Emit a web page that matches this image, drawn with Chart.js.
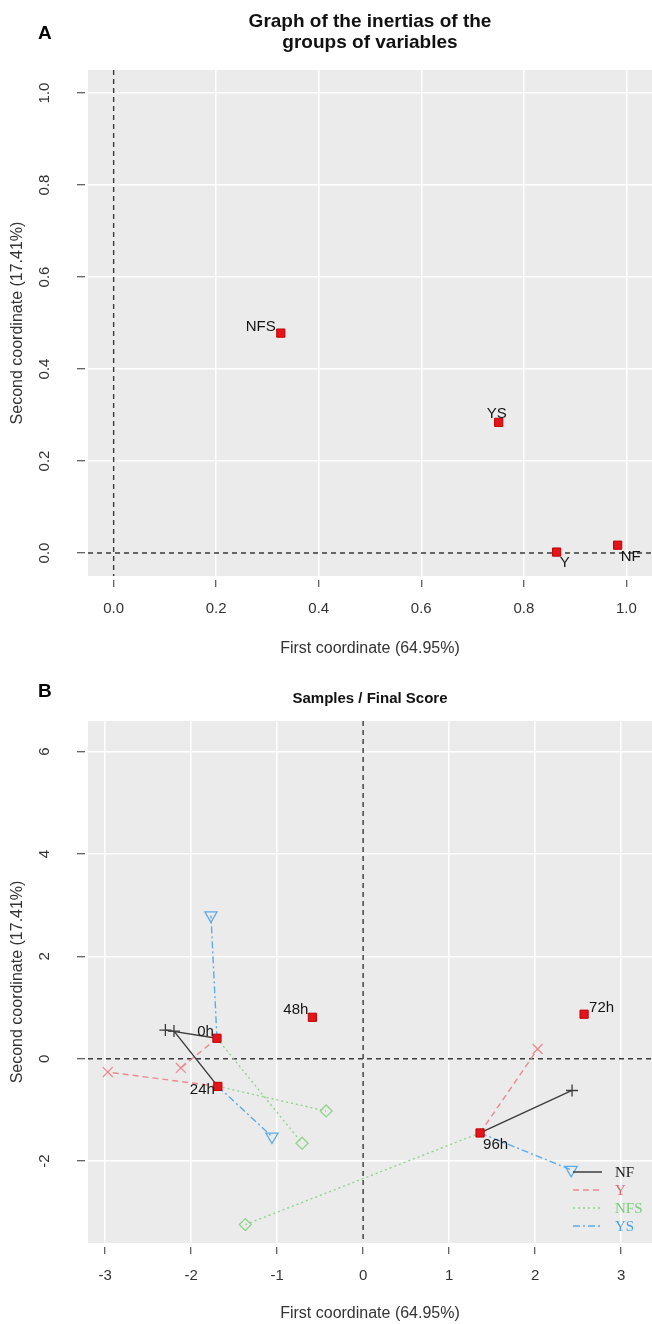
<!DOCTYPE html>
<html><head><meta charset="utf-8">
<script src="https://cdn.jsdelivr.net/npm/chart.js@4/dist/chart.umd.min.js"></script>
<style>
html,body{margin:0;padding:0;background:#fff;width:652px;height:1324px;overflow:hidden;}
.wrap{position:absolute;left:0;width:652px;}
#wa{top:0;height:660px;} #wb{top:660px;height:664px;}
.tag{position:absolute;font:bold 19px "Liberation Sans",Arial,sans-serif;color:#000;line-height:22px;}
</style></head><body>
<div class="wrap" id="wa"><canvas id="ca" width="652" height="660"></canvas></div>
<div class="wrap" id="wb"><canvas id="cb" width="652" height="664"></canvas></div>
<div class="tag" style="left:38px;top:22px">A</div>
<div class="tag" style="left:38px;top:680px">B</div>
<script>
// ---------- DATA ----------
// Panel A: groups of variables
const groupNames = ['NF', 'Y', 'NFS', 'YS'];
const groupCoord1 = [0.983, 0.864, 0.326, 0.751];
const groupCoord2 = [0.017, 0.002, 0.478, 0.284];
const xTicksA = [0, 0.2, 0.4, 0.6, 0.8, 1.0];
const yTicksA = [0, 0.2, 0.4, 0.6, 0.8, 1.0];
const tickLabelsA = ['0.0', '0.2', '0.4', '0.6', '0.8', '1.0'];

// Panel B: samples (mean points) and partial points per group
const sampleNames = ['0h', '24h', '48h', '72h', '96h'];
const sampleDim1 = [-1.70, -1.69, -0.59, 2.57, 1.36];
const sampleDim2 = [0.40, -0.54, 0.81, 0.87, -1.45];
const partialSamples = ['0h', '24h', '96h'];
const nfDim1 = [-2.30, -2.20, 2.43];
const nfDim2 = [0.56, 0.54, -0.62];
const yDim1 = [-2.12, -2.97, 2.03];
const yDim2 = [-0.18, -0.26, 0.19];
const nfsDim1 = [-0.71, -0.43, -1.37];
const nfsDim2 = [-1.65, -1.02, -3.24];
const ysDim1 = [-1.77, -1.06, 2.42];
const ysDim2 = [2.80, -1.52, -2.17];
const xTicksB = [-3, -2, -1, 0, 1, 2, 3];
const yTicksB = [-2, 0, 2, 4, 6];

// ---------- STYLE ----------
const FONT = '"Liberation Sans", Arial, sans-serif';
const SERIF = '"Liberation Serif", "Times New Roman", serif';
const rangeA = {xmin: -0.05, xmax: 1.05, ymin: -0.05, ymax: 1.05};
const rangeB = {xmin: -3.2, xmax: 3.36, ymin: -3.6, ymax: 6.6};
const labelStyle = {
  NFS: {dx: -5, dy: -6, align: 'right'},
  YS: {dx: -2, dy: -9, align: 'center'},
  Y: {dx: 3, dy: 11, align: 'left'},
  NF: {dx: 3, dy: 12, align: 'left'},
  '0h': {dx: -3, dy: -6, align: 'right'},
  '24h': {dx: -3, dy: 3, align: 'right'},
  '48h': {dx: -4, dy: -7, align: 'right'},
  '72h': {dx: 5, dy: -6, align: 'left'},
  '96h': {dx: 3, dy: 12, align: 'left'}
};
const groupStyles = {
  NF: {color: '#3c3c3c', text: '#1a1a1a', dash: [], point: 'cross', rot: 0, r: 6},
  Y: {color: '#ec8990', text: '#e2606b', dash: [6, 4], point: 'crossRot', rot: 0, r: 7},
  NFS: {color: '#8ed48e', text: '#79cc79', dash: [2, 3], point: 'rectRot', rot: 0, r: 6},
  YS: {color: '#5faae6', text: '#4aa2e0', dash: [7, 3, 2, 3], point: 'triangle', rot: 180, r: 7}
};
const partialData = {NF: [nfDim1, nfDim2], Y: [yDim1, yDim2], NFS: [nfsDim1, nfsDim2], YS: [ysDim1, ysDim2]};

// ---------- PLUGINS ----------
const panelBg = {
  id: 'panelBg',
  beforeDraw(chart) {
    const {ctx, chartArea: a} = chart;
    ctx.save(); ctx.fillStyle = '#ebebeb';
    ctx.fillRect(a.left, a.top, a.right - a.left, a.bottom - a.top);
    ctx.restore();
  }
};
const zeroLines = {
  id: 'zeroLines',
  beforeDatasetsDraw(chart) {
    const {ctx, chartArea: a, scales} = chart;
    const x0 = scales.x.getPixelForValue(0), y0 = scales.y.getPixelForValue(0);
    ctx.save(); ctx.strokeStyle = '#3a3a3a'; ctx.lineWidth = 1.4; ctx.setLineDash([5, 4]);
    ctx.beginPath(); ctx.moveTo(x0, a.top); ctx.lineTo(x0, a.bottom); ctx.stroke();
    ctx.beginPath(); ctx.moveTo(a.left, y0); ctx.lineTo(a.right, y0); ctx.stroke();
    ctx.restore();
  }
};
const pointLabels = {
  id: 'pointLabels',
  afterDatasetsDraw(chart) {
    const {ctx} = chart;
    chart.data.datasets.forEach((ds, i) => {
      if (!ds.pointLabels) return;
      const meta = chart.getDatasetMeta(i);
      ctx.save();
      ctx.font = '15px ' + FONT; ctx.fillStyle = '#151515'; ctx.textBaseline = 'middle';
      meta.data.forEach((el, j) => {
        const lab = ds.pointLabels[j]; const st = labelStyle[lab];
        ctx.textAlign = st.align;
        ctx.fillText(lab, el.x + st.dx, el.y + st.dy);
      });
      ctx.restore();
    });
  }
};
const lineLegend = {
  id: 'lineLegend',
  afterDatasetsDraw(chart, args, opts) {
    if (!opts.show) return;
    const {ctx, chartArea: a} = chart;
    ctx.save();
    groupNames.forEach((g, i) => {
      const st = groupStyles[g];
      const y = a.bottom - 71 + i * 18;
      ctx.strokeStyle = st.color; ctx.lineWidth = 1.5; ctx.setLineDash(st.dash);
      ctx.beginPath(); ctx.moveTo(a.right - 79, y); ctx.lineTo(a.right - 50, y); ctx.stroke();
      ctx.setLineDash([]);
      ctx.font = '15px ' + SERIF; ctx.fillStyle = st.text; ctx.textAlign = 'left'; ctx.textBaseline = 'middle';
      ctx.fillText(g, a.right - 37, y + 1);
    });
    ctx.restore();
  }
};

function axisX(range, ticks, labels, height, titlePadBottom) {
  return {
    type: 'linear', position: 'bottom', min: range.xmin, max: range.xmax,
    afterBuildTicks: s => { s.ticks = ticks.map(v => ({value: v})); },
    afterFit: s => { s.height = height; s.paddingLeft = 0; s.paddingRight = 0; },
    ticks: {font: {family: FONT, size: 15}, color: '#333', padding: 13, maxRotation: 0, autoSkip: false,
      callback: (v, i) => labels ? labels[i] : String(v)},
    grid: {color: c => (c.tick && c.tick.value === 0) ? 'rgba(0,0,0,0)' : '#ffffff', lineWidth: 1.5,
      tickColor: '#333', tickWidth: 1, tickLength: 11, tickBorderDash: [0, 4, 7, 100]},
    border: {display: false},
    title: {display: true, text: 'First coordinate (64.95%)', font: {family: FONT, size: 16}, color: '#333',
      padding: {top: 0, bottom: titlePadBottom}}
  };
}
function axisY(range, ticks, labels, pad) {
  return {
    type: 'linear', position: 'left', min: range.ymin, max: range.ymax,
    afterBuildTicks: s => { s.ticks = ticks.map(v => ({value: v})); },
    afterFit: s => { s.width = 88; s.paddingTop = 0; s.paddingBottom = 0; },
    ticks: {font: {family: FONT, size: 15}, color: '#333', padding: pad, minRotation: 90, maxRotation: 90,
      crossAlign: 'center', autoSkip: false, callback: (v, i) => labels ? labels[i] : String(v)},
    grid: {color: c => (c.tick && c.tick.value === 0) ? 'rgba(0,0,0,0)' : '#ffffff', lineWidth: 1.5,
      tickColor: '#333', tickWidth: 1, tickLength: 11, tickBorderDash: [8, 100]},
    border: {display: false},
    title: {display: true, text: 'Second coordinate (17.41%)', font: {family: FONT, size: 16}, color: '#333',
      padding: {top: 8, bottom: 8}}
  };
}
const baseOpts = {responsive: false, animation: false, events: [], layout: {padding: 0, autoPadding: false}};

// ---------- CHART A ----------
new Chart(document.getElementById('ca'), {
  type: 'scatter',
  data: {datasets: [{
    data: groupCoord1.map((x, i) => ({x, y: groupCoord2[i]})),
    pointLabels: groupNames,
    pointStyle: 'rect', pointRadius: 5.8, backgroundColor: '#e3141b', borderColor: '#c00000', borderWidth: 1
  }]},
  options: Object.assign({}, baseOpts, {
    scales: {x: axisX(rangeA, xTicksA, tickLabelsA, 84, 2), y: axisY(rangeA, yTicksA, tickLabelsA, 22)},
    plugins: {
      legend: {display: false}, tooltip: {enabled: false}, lineLegend: {show: false},
      title: {display: true, fullSize: false, text: ['Graph of the inertias of the', 'groups of variables'],
        color: '#111', font: {family: FONT, size: 19, weight: 'bold', lineHeight: 1.1}, padding: {top: 11.5, bottom: 16.7}}
    }
  }),
  plugins: [panelBg, zeroLines, pointLabels, lineLegend]
});

// ---------- CHART B ----------
const dsB = [];
dsB.push({
  data: sampleDim1.map((x, i) => ({x, y: sampleDim2[i]})),
  pointLabels: sampleNames,
  pointStyle: 'rect', pointRadius: 5.8, backgroundColor: '#e3141b', borderColor: '#c00000', borderWidth: 1
});
groupNames.forEach(g => {
  const st = groupStyles[g]; const [d1, d2] = partialData[g];
  const pts = d1.map((x, i) => ({x, y: d2[i]}));
  dsB.push({
    data: pts, showLine: false, pointStyle: st.point, rotation: st.rot, pointRadius: st.r,
    borderColor: st.color, backgroundColor: 'rgba(0,0,0,0)', borderWidth: 1.3
  });
});
groupNames.forEach(g => {
  const st = groupStyles[g]; const [d1, d2] = partialData[g];
  const seg = [];
  partialSamples.forEach((s, i) => {
    const k = sampleNames.indexOf(s);
    seg.push({x: sampleDim1[k], y: sampleDim2[k]}, {x: d1[i], y: d2[i]}, {x: NaN, y: NaN});
  });
  dsB.push({data: seg, showLine: true, spanGaps: false, pointRadius: 0, borderColor: st.color,
    borderDash: st.dash, borderWidth: 1.4, backgroundColor: st.color});
});
new Chart(document.getElementById('cb'), {
  type: 'scatter',
  data: {datasets: dsB},
  options: Object.assign({}, baseOpts, {
    scales: {x: axisX(rangeB, xTicksB, null, 81, 1), y: axisY(rangeB, yTicksB, null, 25)},
    plugins: {
      legend: {display: false}, tooltip: {enabled: false}, lineLegend: {show: true},
      title: {display: true, fullSize: false, text: 'Samples / Final Score',
        color: '#111', font: {family: FONT, size: 15, weight: 'bold', lineHeight: 1.25}, padding: {top: 29.6, bottom: 12.6}}
    }
  }),
  plugins: [panelBg, zeroLines, pointLabels, lineLegend]
});
</script>
</body></html>
